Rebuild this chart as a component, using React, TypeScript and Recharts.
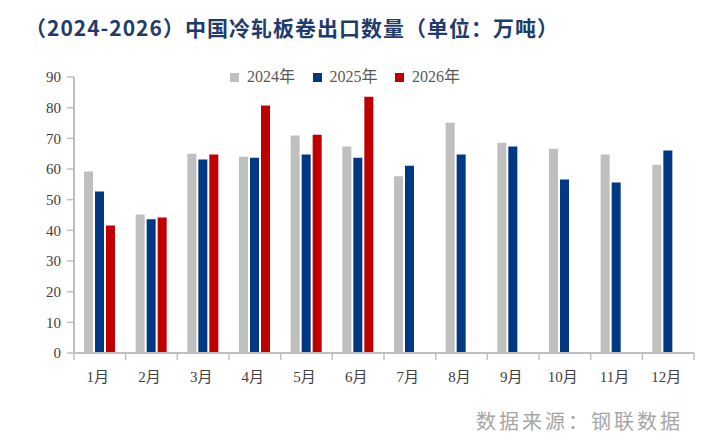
import { BarChart, Bar, XAxis, YAxis } from "recharts"

const months = ["1月", "2月", "3月", "4月", "5月", "6月", "7月", "8月", "9月", "10月", "11月", "12月"]
const y2024 = [59.2, 45.2, 65.0, 64.0, 70.9, 67.3, 57.6, 75.1, 68.6, 66.6, 64.7, 61.4]
const y2025 = [52.7, 43.6, 63.1, 63.7, 64.7, 63.7, 61.1, 64.7, 67.3, 56.6, 55.6, 66.0]
const y2026: (number | null)[] = [41.6, 44.2, 64.7, 80.7, 71.2, 83.6, null, null, null, null, null, null]
const yTicks = [0, 10, 20, 30, 40, 50, 60, 70, 80, 90]

const series = [
  { key: "y2024", name: "2024年", color: "#bfbfbf" },
  { key: "y2025", name: "2025年", color: "#003884" },
  { key: "y2026", name: "2026年", color: "#c00000" },
]

const data = months.map((m, i) => ({
  month: m,
  y2024: y2024[i],
  y2025: y2025[i],
  y2026: y2026[i],
}))

const serif = "Liberation Serif, DejaVu Serif, Noto Sans CJK SC, serif"
const axisGray = "#bfbfbf"

type TickProps = {
  x?: number
  y?: number
  index?: number
  payload?: { value: string; offset?: number }
}

function MonthTick({ x = 0, y = 0, index = 0, payload }: TickProps) {
  const half = payload?.offset ?? 25.8
  const axisY = y - 8
  return (
    <g>
      <line x1={x - half} y1={axisY} x2={x - half} y2={axisY + 7} stroke={axisGray} strokeWidth={1.5} />
      {index === months.length - 1 && (
        <line x1={x + half} y1={axisY} x2={x + half} y2={axisY + 7} stroke={axisGray} strokeWidth={1.5} />
      )}
      <text x={x - 2} y={y} dy={21} textAnchor="middle" fill="#404040" fontSize={15} style={{ fontFamily: serif }}>
        {payload?.value}
      </text>
    </g>
  )
}

export default function App() {
  return (
    <div style={{ position: "absolute", left: 0, top: 0, width: 715, height: 447, background: "#fff" }}>
      <div
        style={{
          position: "absolute",
          left: 25,
          top: 12,
          fontFamily: '"Noto Sans CJK SC", sans-serif',
          fontWeight: 700,
          fontSize: 21,
          letterSpacing: 1,
          color: "#1f3b6b",
          whiteSpace: "nowrap",
          lineHeight: "30px",
        }}
      >
        （2024-2026）中国冷轧板卷出口数量（单位：万吨）
      </div>

      <BarChart
        width={715}
        height={447}
        data={data}
        margin={{ top: 77, right: 21, bottom: 64, left: 0 }}
        barCategoryGap="20%"
        barGap={2}
      >
        <XAxis
          dataKey="month"
          axisLine={{ stroke: axisGray, strokeWidth: 2 }}
          tickLine={false}
          tick={<MonthTick />}
          interval={0}
          height={30}
        />
        <YAxis
          domain={[0, 90]}
          ticks={yTicks}
          width={74}
          axisLine={{ stroke: axisGray, strokeWidth: 2 }}
          tickLine={{ stroke: axisGray, strokeWidth: 1.5 }}
          tickSize={7}
          tickMargin={6}
          tick={{ fill: "#404040", fontSize: 15, style: { fontFamily: serif } }}
        />
        {series.map((s) => (
          <Bar key={s.key} dataKey={s.key} name={s.name} fill={s.color} barSize={9} isAnimationActive={false} />
        ))}
      </BarChart>

      <div
        style={{
          position: "absolute",
          left: 230,
          top: 67,
          display: "flex",
          fontFamily: serif,
          fontSize: 16,
          color: "#595959",
          whiteSpace: "nowrap",
        }}
      >
        {series.map((s) => (
          <div key={s.key} style={{ display: "flex", alignItems: "center", width: 82.5 }}>
            <span style={{ display: "inline-block", width: 9, height: 9, background: s.color, marginRight: 8 }} />
            <span style={{ lineHeight: "20px" }}>{s.name}</span>
          </div>
        ))}
      </div>

      <div
        style={{
          position: "absolute",
          left: 476,
          top: 408,
          fontFamily: serif,
          fontSize: 20,
          letterSpacing: 3,
          color: "#a6a6a6",
          whiteSpace: "nowrap",
          lineHeight: "28px",
        }}
      >
        数据来源：钢联数据
      </div>
    </div>
  )
}
